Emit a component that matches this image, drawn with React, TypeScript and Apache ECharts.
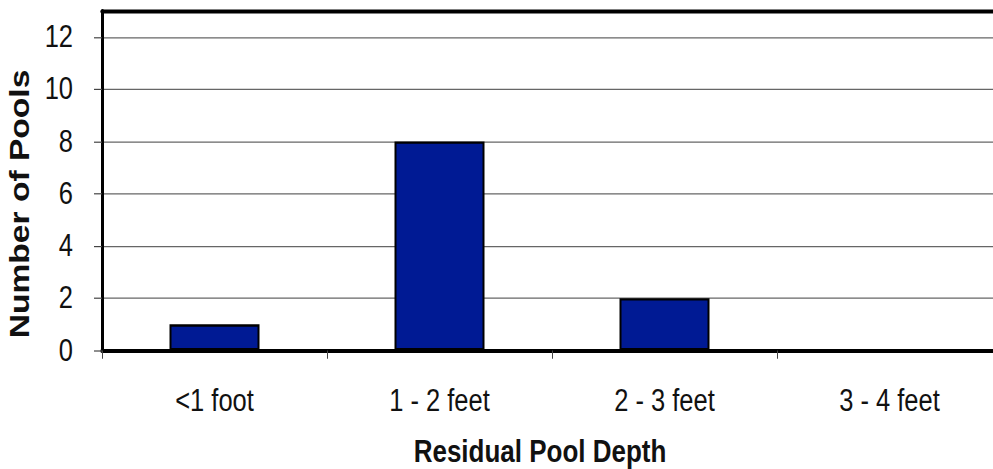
import React, { useEffect, useRef } from "react";
import * as echarts from "echarts";

const categories = ["<1 foot", "1 - 2 feet", "2 - 3 feet", "3 - 4 feet"];
const poolCounts = [1, 8, 2, 0];
const yTicks = [0, 2, 4, 6, 8, 10, 12];
const yMax = 13;

const SANS = "'Liberation Sans', Arial, Helvetica, sans-serif";
const STRETCH = 1.2;
const W = 993;
const H = 469;

export default function App() {
  const ref = useRef<HTMLDivElement>(null);
  useEffect(() => {
    document.body.style.margin = "0";
    const chart = echarts.init(ref.current!, null, { renderer: "svg" });
    chart.setOption({
      animation: false,
      backgroundColor: "#ffffff",
      grid: { left: 102, top: 9, bottom: 99, width: 900, outerBoundsMode: "none", containLabel: false },
      xAxis: [
        {
          type: "category",
          data: categories,
          position: "bottom",
          axisLine: { lineStyle: { color: "#000", width: 3.3 } },
          axisTick: { show: true, length: 7, lineStyle: { color: "#444", width: 1 } },
          axisLabel: {
            color: "#111",
            fontFamily: SANS,
            fontSize: 25.5,
            margin: 29,
          },
          name: "Residual Pool Depth",
          nameLocation: "middle",
          nameGap: 71,
          nameTextStyle: {
            color: "#111",
            fontFamily: SANS,
            fontWeight: "bold",
            fontSize: 26,
            padding: [0, 24, 0, 0],
          },
        },
        {
          type: "category",
          data: categories,
          position: "top",
          axisLine: { lineStyle: { color: "#000", width: 3.3 } },
          axisTick: { show: false },
          axisLabel: { show: false },
        },
      ],
      yAxis: {
        type: "value",
        min: 0,
        max: yMax,
        interval: 2,
        axisLine: { show: true, lineStyle: { color: "#000", width: 3 } },
        axisTick: { show: true, length: 8, customValues: yTicks, lineStyle: { color: "#444", width: 1 } },
        axisLabel: {
          customValues: yTicks,
          color: "#111",
          fontFamily: SANS,
          fontSize: 25.5,
          margin: 29,
        },
        splitLine: { show: true, lineStyle: { color: "#666", width: 1 } },
        name: "Number of Pools",
        nameLocation: "middle",
        nameGap: 66,
        nameRotate: 90,
        nameTextStyle: {
          color: "#111",
          fontFamily: SANS,
          fontWeight: "bold",
          fontSize: 28,
          padding: [0, 39, 0, 0],
        },
      },
      series: [
        {
          type: "bar",
          data: poolCounts,
          barWidth: "40%",
          itemStyle: { color: "#001A94", borderColor: "#000", borderWidth: 2 },
        },
      ],
    });
    return () => chart.dispose();
  }, []);
  return (
    <div style={{ width: W, height: H, overflow: "hidden" }}>
      <div
        ref={ref}
        style={{
          width: W,
          height: H / STRETCH,
          transform: `scaleY(${STRETCH})`,
          transformOrigin: "0 0",
        }}
      />
    </div>
  );
}
